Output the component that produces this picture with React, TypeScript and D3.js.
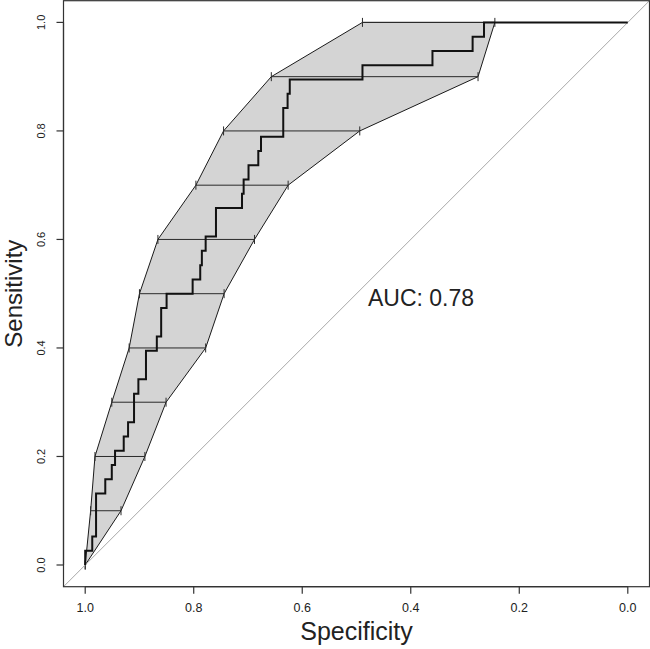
import React from "react";
import * as d3 from "d3";

// ROC step curve: specificity at each vertical step, and cumulative true positives reached
const nPositives = 38;
const stepSpecificity = [
  1.0, 0.987, 0.98, 0.963, 0.951, 0.945, 0.929, 0.921, 0.91, 0.902, 0.888,
  0.868, 0.86, 0.85, 0.802, 0.788, 0.785, 0.778, 0.759, 0.711, 0.708, 0.699,
  0.681, 0.676, 0.635, 0.627, 0.623, 0.489, 0.36, 0.286, 0.265,
];
const stepTruePositives = [
  1, 2, 5, 6, 7, 8, 9, 10, 12, 13, 15, 16, 18, 19, 20, 21, 22, 23, 25, 26, 27,
  28, 29, 30, 32, 33, 34, 35, 36, 37, 38,
];

// Confidence interval of specificity at fixed sensitivities
const ciSensitivity = [0, 0.1, 0.2, 0.3, 0.4, 0.5, 0.6, 0.7, 0.8, 0.9, 1.0];
const ciSpecUpper = [1.0, 0.99, 0.982, 0.951, 0.919, 0.9, 0.866, 0.796, 0.745, 0.657, 0.489];
const ciSpecLower = [1.0, 0.934, 0.89, 0.851, 0.778, 0.744, 0.688, 0.626, 0.494, 0.276, 0.245];

const xTicks = [1.0, 0.8, 0.6, 0.4, 0.2, 0.0];
const yTicks = [0.0, 0.2, 0.4, 0.6, 0.8, 1.0];
const aucLabel = "AUC: 0.78";

const W = 650;
const H = 649;
const FONT = "'Liberation Sans', Arial, sans-serif";

export default function App() {
  const x = d3.scaleLinear().domain([1.04, -0.04]).range([63.5, 649.5]);
  const y = d3.scaleLinear().domain([-0.04, 1.04]).range([586.7, 0.7]);

  // build ROC vertices
  const rocPts: [number, number][] = [[1.0, 0]];
  let prev = 0;
  stepSpecificity.forEach((s, i) => {
    rocPts.push([s, prev / nPositives]);
    rocPts.push([s, stepTruePositives[i] / nPositives]);
    prev = stepTruePositives[i];
  });
  rocPts.push([0, 1]);
  const line = d3
    .line<[number, number]>()
    .x((d) => x(d[0]))
    .y((d) => y(d[1]));

  const bandPts: [number, number][] = [
    ...ciSensitivity.map((s, i) => [ciSpecUpper[i], s] as [number, number]),
    ...ciSensitivity
      .map((s, i) => [ciSpecLower[i], s] as [number, number])
      .reverse(),
  ];
  const band = d3
    .line<[number, number]>()
    .x((d) => x(d[0]))
    .y((d) => y(d[1]))
    .curve(d3.curveLinearClosed);

  const [x0, x1] = x.range();
  const [y0, y1] = y.range();

  return (
    <svg
      width={W}
      height={H}
      style={{ position: "absolute", left: 0, top: 0, background: "#fff" }}
      fontFamily={FONT}
    >
      <rect x={0} y={0} width={W} height={H} fill="#fff" />
      {/* CI band */}
      <path d={band(bandPts) || ""} fill="#d4d4d4" stroke="#1a1a1a" strokeWidth={1} />
      {/* CI bars */}
      {ciSensitivity.map((s, i) => (
        <g key={"ci" + i} stroke="#2a2a2a" strokeWidth={1}>
          <line x1={x(ciSpecUpper[i])} x2={x(ciSpecLower[i])} y1={y(s)} y2={y(s)} />
          <line x1={x(ciSpecUpper[i])} x2={x(ciSpecUpper[i])} y1={y(s) - 4.5} y2={y(s) + 4.5} />
          <line x1={x(ciSpecLower[i])} x2={x(ciSpecLower[i])} y1={y(s) - 4.5} y2={y(s) + 4.5} />
        </g>
      ))}
      {/* diagonal */}
      <line x1={x(1.04)} y1={y(-0.04)} x2={x(-0.04)} y2={y(1.04)} stroke="#a8a8a8" strokeWidth={1} />
      {/* ROC curve */}
      <path d={line(rocPts) || ""} fill="none" stroke="#111" strokeWidth={2} />
      {/* box */}
      <rect x={x0} y={y1} width={x1 - x0} height={y0 - y1} fill="none" stroke="#333" strokeWidth={1.2} />
      {/* x axis */}
      <line x1={x(1)} x2={x(0)} y1={y0} y2={y0} stroke="#333" strokeWidth={1.2} />
      {xTicks.map((t) => (
        <g key={"xt" + t}>
          <line x1={x(t)} x2={x(t)} y1={y0} y2={y0 + 7} stroke="#333" strokeWidth={1.2} />
          <text x={x(t)} y={612} textAnchor="middle" fontSize={12.5} fill="#222">
            {t.toFixed(1)}
          </text>
        </g>
      ))}
      {/* y axis */}
      <line x1={x0} x2={x0} y1={y(0)} y2={y(1)} stroke="#333" strokeWidth={1.2} />
      {yTicks.map((t) => (
        <g key={"yt" + t}>
          <line x1={x0} x2={x0 - 7} y1={y(t)} y2={y(t)} stroke="#333" strokeWidth={1.2} />
          <text
            transform={`translate(${45},${y(t)}) rotate(-90)`}
            textAnchor="middle"
            fontSize={11}
            fill="#222"
          >
            {t.toFixed(1)}
          </text>
        </g>
      ))}
      <text x={(x(1) + x(0)) / 2} y={640} textAnchor="middle" fontSize={25} fill="#222">
        Specificity
      </text>
      <text
        transform={`translate(${22},${(y(0) + y(1)) / 2}) rotate(-90)`}
        textAnchor="middle"
        fontSize={24}
        fill="#222"
      >
        Sensitivity
      </text>
      <text x={421} y={306} textAnchor="middle" fontSize={23} fill="#222">
        {aucLabel}
      </text>
    </svg>
  );
}
